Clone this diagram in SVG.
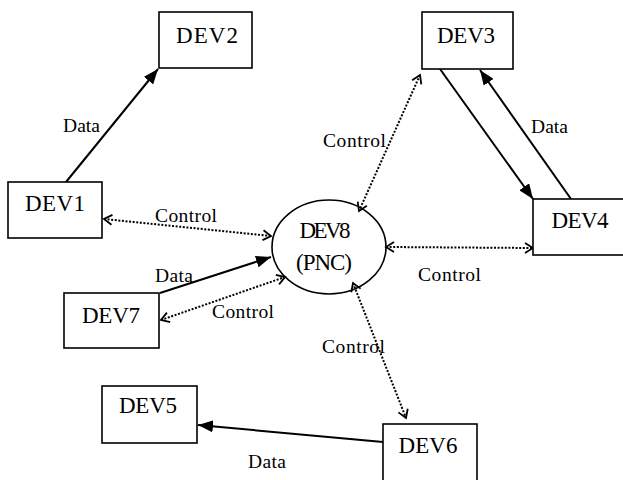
<svg xmlns="http://www.w3.org/2000/svg" width="623" height="480" viewBox="0 0 623 480">
<style>
.box{fill:#fff;stroke:#000;stroke-width:1.6}
.node{font-family:"Liberation Serif","Times New Roman",serif;font-size:23px;fill:#000;text-anchor:middle}
.lbl{font-family:"Liberation Serif","Times New Roman",serif;font-size:19.5px;fill:#000}
.data{stroke:#000;stroke-width:2;fill:none;marker-end:url(#solid)}
.ctrl{stroke:#000;stroke-width:2;stroke-dasharray:2 1.6;fill:none;marker-start:url(#open);marker-end:url(#open)}
</style>
<defs>
<marker id="solid" markerUnits="userSpaceOnUse" markerWidth="16" markerHeight="12" viewBox="0 0 16 12" refX="15" refY="6" orient="auto">
<path d="M0,0 L15,6 L0,12 z" fill="#000"/>
</marker>
<marker id="open" markerUnits="userSpaceOnUse" markerWidth="12" markerHeight="12" viewBox="0 0 12 12" refX="10" refY="6" orient="auto-start-reverse">
<path d="M2,1 L10,6 L2,11" fill="none" stroke="#000" stroke-width="1.8"/>
</marker>
</defs>
<rect width="623" height="480" fill="#fff"/>
<g id="connectors">
<line class="data" x1="66" y1="182" x2="158" y2="69"/>
<line class="ctrl" x1="104" y1="219" x2="271" y2="236"/>
<line class="ctrl" x1="420" y1="75" x2="359" y2="211"/>
<line class="data" x1="440" y1="69" x2="533" y2="199"/>
<line class="data" x1="571" y1="199" x2="480" y2="70"/>
<line class="ctrl" x1="386" y1="247" x2="533" y2="248"/>
<line class="data" x1="160" y1="293" x2="271" y2="257"/>
<line class="ctrl" x1="161" y1="320" x2="285" y2="277"/>
<line class="ctrl" x1="353" y1="283" x2="406" y2="418"/>
<line class="data" x1="383" y1="442" x2="198" y2="425"/>
<text class="lbl" x="63" y="132" textLength="37">Data</text>
<text class="lbl" x="155" y="222" textLength="62">Control</text>
<text class="lbl" x="323" y="147" textLength="63">Control</text>
<text class="lbl" x="531" y="133" textLength="37">Data</text>
<text class="lbl" x="418" y="281" textLength="63">Control</text>
<text class="lbl" x="155" y="282" textLength="38">Data</text>
<text class="lbl" x="212" y="318" textLength="62">Control</text>
<text class="lbl" x="322" y="353" textLength="63">Control</text>
<text class="lbl" x="248" y="468" textLength="38">Data</text>
</g>
<g id="DEV1"><rect class="box" x="8" y="182" width="94" height="56"/><text class="node" x="55" y="211" textLength="60">DEV1</text></g>
<g id="DEV2"><rect class="box" x="159" y="12" width="93" height="56"/><text class="node" x="207" y="43" textLength="62">DEV2</text></g>
<g id="DEV3"><rect class="box" x="422" y="12" width="91" height="57"/><text class="node" x="466" y="43" textLength="58">DEV3</text></g>
<g id="DEV4"><rect class="box" x="533" y="199" width="100" height="56"/><text class="node" x="580" y="228" textLength="57">DEV4</text></g>
<g id="DEV5"><rect class="box" x="102" y="386" width="95" height="57"/><text class="node" x="148" y="413" textLength="58">DEV5</text></g>
<g id="DEV6"><rect class="box" x="383" y="424" width="94" height="62"/><text class="node" x="428" y="453" textLength="59">DEV6</text></g>
<g id="DEV7"><rect class="box" x="64" y="293" width="95" height="55"/><text class="node" x="111" y="323" textLength="58">DEV7</text></g>
<g id="DEV8"><ellipse class="box" cx="329" cy="247" rx="57" ry="47" style="fill:none"/><text class="node" x="325" y="238" textLength="51">DEV8</text><text class="node" x="324" y="270" textLength="56">(PNC)</text></g>
</svg>
